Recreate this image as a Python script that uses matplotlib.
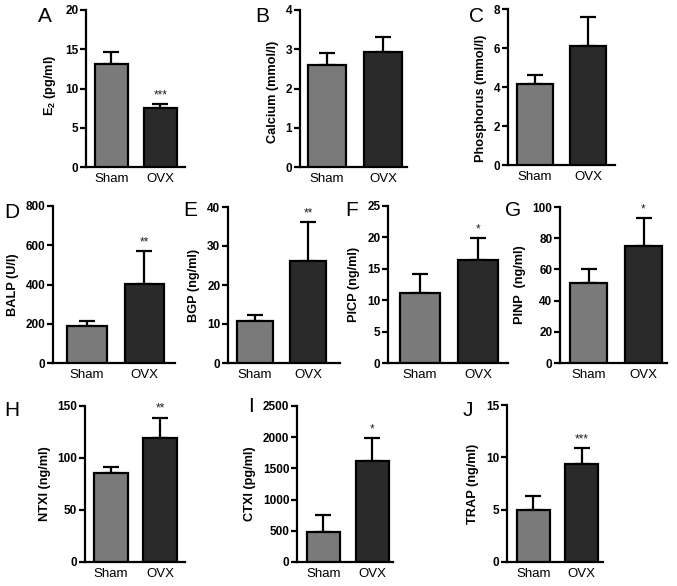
import matplotlib
matplotlib.use("Agg")
import matplotlib.pyplot as plt

plt.rcParams['font.family'] = ['Liberation Sans', 'DejaVu Sans']
plt.rcParams['mathtext.fontset'] = 'custom'
plt.rcParams['mathtext.rm'] = 'Liberation Sans:bold'
plt.rcParams['mathtext.bf'] = 'Liberation Sans:bold'
plt.rcParams['mathtext.it'] = 'Liberation Sans:bold'

# ---- data ----
groups = ['Sham', 'OVX']
panel_letters = ['A', 'B', 'C', 'D', 'E', 'F', 'G', 'H', 'I', 'J']
ylabels = [r'E$_2$ (pg/ml)', 'Calcium (mmol/l)', 'Phosphorus (mmol/l)',
           'BALP (U/l)', 'BGP (ng/ml)', 'PICP (ng/ml)', 'PINP  (ng/ml)',
           'NTXI (ng/ml)', 'CTXI (pg/ml)', 'TRAP (ng/ml)']
sham_mean = [13.1, 2.60, 4.15, 188, 10.8, 11.1, 51.5, 86, 481, 4.95]
sham_err = [1.6, 0.30, 0.45, 26, 1.4, 3.0, 8.5, 5.7, 267, 1.34]
ovx_mean = [7.55, 2.94, 6.10, 402, 26.2, 16.4, 75.0, 119.5, 1619, 9.33]
ovx_err = [0.45, 0.37, 1.47, 169, 10.0, 3.5, 18.1, 19.3, 368, 1.53]
stars = ['***', '', '', '**', '**', '*', '*', '**', '*', '***']
ymax = [20, 4, 8, 800, 40, 25, 100, 150, 2500, 15]
ystep = [5, 1, 2, 200, 10, 5, 20, 50, 500, 5]

# ---- layout (pixels: x0, x1, ytop, ybottom) ----
W, H = 677, 586
boxes = [(86, 185, 10, 167), (300, 407, 10, 167), (508, 615, 9, 165),
         (53, 175, 206, 363), (228, 340, 207, 363), (388, 508, 206, 363), (560, 667, 207, 363),
         (85, 185, 406, 562), (297, 393, 406, 562), (507, 603, 405, 562)]
xlims = [(-0.52, 1.50), (-0.48, 1.43), (-0.50, 1.50),
         (-0.59, 1.53), (-0.51, 1.60), (-0.55, 1.51), (-0.53, 1.43),
         (-0.52, 1.50), (-0.54, 1.42), (-0.54, 1.44)]
label_y = [0.52, 0.48, 0.43, 0.5, 0.5, 0.5, 0.5, 0.5, 0.5, 0.5]
letter_pos = [(45, 16), (262, 16), (477, 16),
              (12, 212), (190, 210), (352, 210), (513, 210),
              (12, 410), (251, 407), (468, 411)]

colors = ['#7a7a7a', '#2a2a2a']
lw = 1.6

fig = plt.figure(figsize=(W / 100, H / 100), dpi=100)
for i in range(len(panel_letters)):
    x0, x1, yt, yb = boxes[i]
    ax = fig.add_axes([x0 / W, 1 - yb / H, (x1 - x0) / W, (yb - yt) / H])
    means = [sham_mean[i], ovx_mean[i]]
    errs = [sham_err[i], ovx_err[i]]
    xs = [0, 1]
    ax.errorbar(xs, means, yerr=[[0, 0], errs], fmt='none', ecolor='black',
                elinewidth=lw, capsize=5.5, capthick=lw, zorder=2)
    ax.bar(xs, means, width=0.68, color=colors, edgecolor='black',
           linewidth=lw, zorder=3)
    if stars[i]:
        ax.annotate(stars[i], xy=(1, ovx_mean[i] + ovx_err[i]), xytext=(0, 2),
                    textcoords='offset points', ha='center', va='bottom',
                    fontsize=8.5, color='#222222')
    ax.set_xlim(*xlims[i])
    ax.set_ylim(0, ymax[i])
    ax.set_yticks(range(0, ymax[i] + 1, ystep[i]))
    ax.set_xticks(xs)
    ax.set_xticklabels(groups, fontsize=9.5)
    ax.tick_params(axis='x', length=0, pad=4)
    ax.tick_params(axis='y', length=4, width=lw, pad=1.5, labelsize=8.5)
    for t in ax.get_yticklabels():
        t.set_fontweight('bold')
    ax.set_ylabel(ylabels[i], fontsize=9.2, fontweight='bold', labelpad=5)
    ax.yaxis.label.set_y(label_y[i])
    for s in ['top', 'right']:
        ax.spines[s].set_visible(False)
    for s in ['left', 'bottom']:
        ax.spines[s].set_linewidth(lw)
    lx, ly = letter_pos[i]
    fig.text(lx / W, 1 - ly / H, panel_letters[i], fontsize=15,
             ha='center', va='center')

fig.savefig('out.png', dpi=100)
